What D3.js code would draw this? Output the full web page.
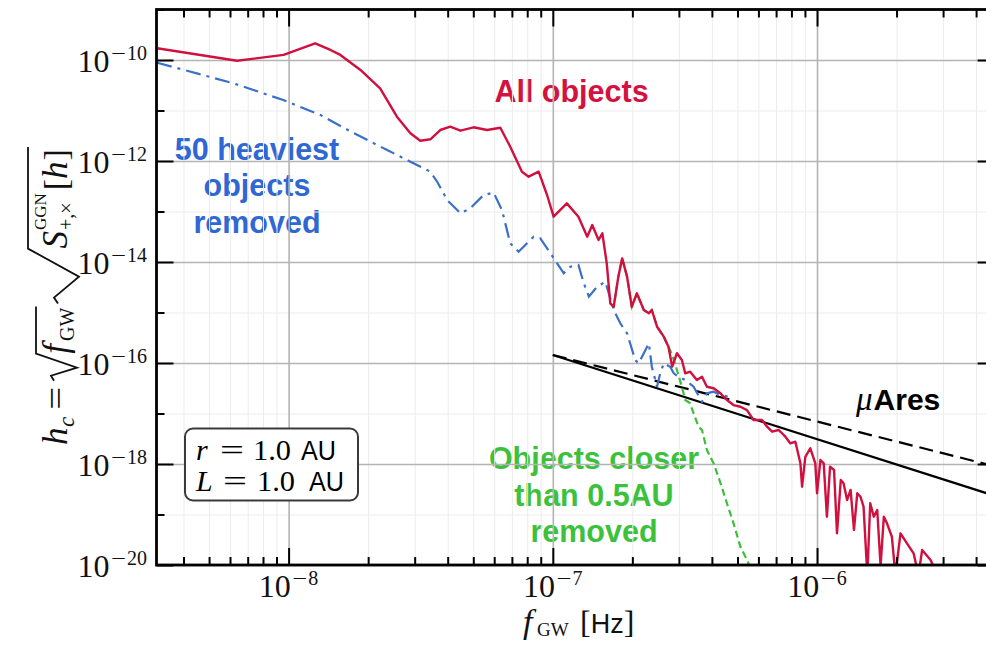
<!DOCTYPE html>
<html><head><meta charset="utf-8">
<script src="https://cdn.jsdelivr.net/npm/d3@7"></script>
<style>
html,body{margin:0;padding:0;background:#fff;}
svg{display:block;}
</style></head><body>
<svg id="chart" width="986" height="645"></svg>
<script>
// ---------------- data ----------------
const xMajorTicks = [1e-8, 1e-7, 1e-6];
const xMajorLabels = ["8", "7", "6"];          // exponent magnitudes (negative)
const xMinorTicks = [4e-9,5e-9,6e-9,7e-9,8e-9,9e-9,
  2e-8,3e-8,4e-8,5e-8,6e-8,7e-8,8e-8,9e-8,
  2e-7,3e-7,4e-7,5e-7,6e-7,7e-7,8e-7,9e-7,
  2e-6,3e-6,4e-6];
const yMajorTicks = [1e-20, 1e-18, 1e-16, 1e-14, 1e-12, 1e-10];
const yMajorLabels = ["20","18","16","14","12","10"];  // exponent magnitudes (negative)
const yMinorTicks = [1e-19, 1e-17, 1e-15, 1e-13, 1e-11, 1e-9];

// All objects (f [Hz], h_c)
const allObjects = [
 [3.18e-9,1.71e-10],[6.38e-9,9.69e-11],[9.57e-9,1.26e-10],[1.26e-8,2.14e-10],[1.44e-8,1.58e-10],
 [1.57e-8,1.26e-10],[1.87e-8,6.34e-11],[2.22e-8,2.75e-11],[2.57e-8,7.54e-12],[2.89e-8,3.54e-12],
 [3.15e-8,2.52e-12],[3.44e-8,2.69e-12],[3.75e-8,4.11e-12],[4.09e-8,4.78e-12],[4.47e-8,3.98e-12],
 [5.01e-8,4.65e-12],[5.64e-8,4.11e-12],[6.33e-8,4.56e-12],[6.90e-8,1.92e-12],[7.64e-8,6.14e-13],
 [8.10e-8,4.89e-13],[8.84e-8,6.14e-13],[9.51e-8,2.12e-13],[1.007e-7,7.89e-14],[1.13e-7,1.45e-13],
 [1.25e-7,7.89e-14],[1.35e-7,3.17e-14],[1.41e-7,5.40e-14],[1.49e-7,2.73e-14],[1.54e-7,3.70e-14],
 [1.60e-7,9.42e-15],[1.65e-7,1.52e-15],[1.70e-7,1.30e-15],[1.77e-7,5.12e-15],[1.83e-7,1.18e-14],
 [1.91e-7,5.12e-15],[1.99e-7,1.30e-15],[2.08e-7,2.40e-15],[2.21e-7,1.12e-15],[2.31e-7,9.64e-16],
 [2.37e-7,1.12e-15],[2.48e-7,5.23e-16],[2.63e-7,3.32e-16],[2.74e-7,2.10e-16],[2.83e-7,8.45e-17],
 [2.95e-7,1.56e-16],[3.08e-7,1.15e-16],[3.17e-7,6.25e-17],[3.31e-7,6.72e-17],[3.51e-7,4.61e-17],
 [3.67e-7,5.35e-17],[3.83e-7,3.39e-17],[4.06e-7,3.16e-17],[4.31e-7,2.51e-17],[4.56e-7,1.85e-17],
 [4.83e-7,1.47e-17],[5.13e-7,1.36e-17],[5.43e-7,1.17e-17],[5.75e-7,7.43e-18],[6.19e-7,7.43e-18],
 [6.47e-7,5.48e-18],[6.76e-7,4.36e-18],[7.16e-7,4.71e-18],[7.59e-7,3.47e-18],[7.92e-7,2.57e-18],
 [8.28e-7,2.76e-18],[8.65e-7,1.03e-18],[8.78e-7,3.55e-19],[9.03e-7,1.39e-18],[9.43e-7,2.05e-18],
 [9.85e-7,1.03e-18],[1.00e-6,2.63e-19],[1.03e-6,1.20e-18],[1.06e-6,1.03e-18],[1.09e-6,9.05e-20],
 [1.12e-6,8.84e-19],[1.16e-6,7.61e-19],[1.19e-6,4.24e-20],[1.23e-6,4.82e-19],[1.26e-6,4.15e-19],
 [1.30e-6,1.94e-19],[1.34e-6,3.06e-19],[1.38e-6,4.93e-20],[1.42e-6,2.63e-19],[1.46e-6,2.25e-19],
 [1.50e-6,1.43e-19],[1.55e-6,6.34e-21],[1.59e-6,1.67e-19],[1.64e-6,9.05e-20],[1.69e-6,1.23e-19],
 [1.74e-6,9.55e-21],[1.79e-6,9.05e-20],[1.84e-6,6.69e-20],[1.92e-6,3.63e-20],[1.98e-6,6.34e-21],
 [2.07e-6,4.24e-20],[2.19e-6,2.69e-20],[2.32e-6,1.70e-20],[2.42e-6,6.34e-21],[2.50e-6,1.98e-20],
 [2.69e-6,1.26e-20],[2.85e-6,6.34e-21]
];

// 50 heaviest objects removed
const heaviestRemoved = [
 [3.18e-9,8.84e-11],[6.18e-9,3.46e-11],[9.55e-9,1.61e-11],[1.32e-8,8.14e-12],[1.76e-8,3.58e-12],
 [2.36e-8,1.65e-12],[2.89e-8,9.68e-13],[3.44e-8,6.14e-13],[3.65e-8,3.89e-13],[3.98e-8,1.69e-13],
 [4.47e-8,9.21e-14],[4.87e-8,1.16e-13],[5.47e-8,2.12e-13],[5.97e-8,2.36e-13],[6.42e-8,1.07e-13],
 [6.90e-8,2.35e-14],[7.42e-8,1.60e-14],[8.46e-8,3.17e-14],[8.97e-8,2.94e-14],[1.007e-7,1.20e-14],
 [1.10e-7,5.97e-15],[1.165e-7,8.07e-15],[1.25e-7,8.72e-15],[1.31e-7,3.79e-15],[1.37e-7,2.06e-15],
 [1.47e-7,3.24e-15],[1.58e-7,4.07e-15],[1.70e-7,1.12e-15],[1.80e-7,6.11e-16],[1.91e-7,3.87e-16],
 [2.05e-7,1.15e-16],[2.11e-7,9.86e-17],[2.21e-7,1.56e-16],[2.31e-7,2.45e-16],[2.37e-7,8.45e-17],
 [2.48e-7,3.39e-17],[2.55e-7,6.25e-17],[2.63e-7,9.86e-17],[2.78e-7,8.45e-17],[2.87e-7,6.25e-17],
 [2.99e-7,5.35e-17],[3.17e-7,4.61e-17],[3.41e-7,3.39e-17],[3.67e-7,1.71e-17],[3.83e-7,2.51e-17],
 [4.06e-7,2.70e-17],[4.31e-7,2.32e-17],[4.63e-7,2.15e-17]
];

// Objects closer than 0.5 AU removed
const closerRemoved = [
 [1.65e-7,1.52e-15],[1.70e-7,1.30e-15],[1.77e-7,5.12e-15],[1.83e-7,1.18e-14],[1.91e-7,5.12e-15],
 [1.99e-7,1.30e-15],[2.08e-7,2.40e-15],[2.21e-7,1.12e-15],[2.31e-7,9.64e-16],[2.37e-7,1.12e-15],
 [2.48e-7,5.23e-16],[2.63e-7,3.32e-16],[2.74e-7,2.10e-16],[2.83e-7,1.44e-16],[2.95e-7,7.27e-17],
 [3.08e-7,3.39e-17],[3.17e-7,1.85e-17],[3.31e-7,1.59e-17],[3.41e-7,1.01e-17],[3.56e-7,5.48e-18],
 [3.67e-7,4.71e-18],[3.83e-7,1.89e-18],[4.06e-7,1.03e-18],[4.31e-7,4.21e-19],[4.56e-7,1.67e-19],
 [4.83e-7,6.69e-20],[5.13e-7,2.30e-20],[5.43e-7,1.26e-20],[5.69e-7,7.27e-21]
];

// muAres sensitivity curves
const muAresSolid  = [[1e-7,1.44e-16],[1e-5,6.68e-20]];
const muAresDashed = [[1e-7,1.44e-16],[1e-5,3.34e-19]];

// ---------------- chart ----------------
const serif = "'Liberation Serif','Times New Roman',serif";
const sans = "'Liberation Sans',Arial,Helvetica,sans-serif";
const svg = d3.select("#chart");

const x = d3.scaleLog().domain([3.162e-9, 4.7e-6]).range([156.5, 994.6]);
const y = d3.scaleLog().domain([1e-20, 1e-9]).range([565, 9.5]);
const [X0, X1] = x.range();
const [Y1, Y0] = y.range();

svg.append("defs").append("clipPath").attr("id","plotclip")
  .append("rect").attr("x",X0).attr("y",Y0).attr("width",X1-X0).attr("height",Y1-Y0);

// annotation texts (below grid)
const ann = svg.append("g").attr("font-family", sans).attr("font-weight","bold").attr("font-size",30.5);
ann.append("text").attr("x",571.5).attr("y",101.7).attr("text-anchor","middle").attr("fill","#d3123f").text("All objects");
[["50 heaviest",160],["objects",196],["removed",233]].forEach(([s,yy])=>{
  ann.append("text").attr("x",257).attr("y",yy).attr("text-anchor","middle").attr("fill","#2f68d2").text(s);
});
[["Objects closer",469],["than 0.5AU",506],["removed",542]].forEach(([s,yy])=>{
  ann.append("text").attr("x",594).attr("y",yy).attr("text-anchor","middle").attr("fill","#3cc13c").text(s);
});

// grid
function gridX(vals, color, w){
  svg.append("g").attr("transform",`translate(0,${Y1})`)
    .call(d3.axisBottom(x).tickValues(vals).tickSize(-(Y1-Y0)).tickSizeOuter(0).tickFormat(""))
    .call(g=>g.select(".domain").remove())
    .call(g=>g.selectAll(".tick line").attr("stroke",color).attr("stroke-width",w));
}
function gridY(vals, color, w){
  svg.append("g").attr("transform",`translate(${X0},0)`)
    .call(d3.axisLeft(y).tickValues(vals).tickSize(-(X1-X0)).tickSizeOuter(0).tickFormat(""))
    .call(g=>g.select(".domain").remove())
    .call(g=>g.selectAll(".tick line").attr("stroke",color).attr("stroke-width",w));
}
gridX(xMinorTicks, "#ececec", 1);
gridY(yMinorTicks, "#ececec", 1);
gridX(xMajorTicks, "#b4b4b4", 1.6);
gridY(yMajorTicks, "#b4b4b4", 1.6);

// curves
const line = d3.line().x(d=>x(d[0])).y(d=>y(d[1]));
const plot = svg.append("g").attr("clip-path","url(#plotclip)").attr("fill","none");
plot.append("path").datum(muAresSolid).attr("d",line).attr("stroke","#000").attr("stroke-width",2.2);
plot.append("path").datum(muAresDashed).attr("d",line).attr("stroke","#000").attr("stroke-width",2.2).attr("stroke-dasharray","14,7");
plot.append("path").datum(closerRemoved).attr("d",line).attr("stroke","#3cbf3c").attr("stroke-width",2.2).attr("stroke-dasharray","7,4");
plot.append("path").datum(heaviestRemoved).attr("d",line).attr("stroke","#3a70c8").attr("stroke-width",2.2).attr("stroke-dasharray","15,6,3,6");
plot.append("path").datum(allObjects).attr("d",line).attr("stroke","#d0103f").attr("stroke-width",2.4).attr("stroke-linejoin","round");

// muAres label
const mu = svg.append("text").attr("x",856).attr("y",410);
mu.append("tspan").attr("font-family",serif).attr("font-style","italic").attr("font-size",33).text("\u03bc");
mu.append("tspan").attr("font-family",sans).attr("font-weight","bold").attr("font-size",30).attr("dx",1).text("Ares");

// parameter box
const box = svg.append("g");
box.append("rect").attr("x",185).attr("y",428.5).attr("width",173).attr("height",72).attr("rx",8)
  .attr("fill","#fff").attr("stroke","#3a3a3a").attr("stroke-width",2);
function boxLine(v, xv, xe, xn, xa, yy){
  box.append("text").attr("x",xv).attr("y",yy).attr("font-family",serif).attr("font-style","italic").attr("font-size",30).text(v);
  box.append("text").attr("x",xe).attr("y",yy).attr("font-family",serif).attr("font-size",30).attr("textLength",24).attr("lengthAdjust","spacingAndGlyphs").text("=");
  box.append("text").attr("x",xn).attr("y",yy).attr("font-family",serif).attr("font-size",29).attr("textLength",38).attr("lengthAdjust","spacingAndGlyphs").text("1.0");
  box.append("text").attr("x",xa).attr("y",yy).attr("font-family",sans).attr("font-size",28).attr("textLength",35).attr("lengthAdjust","spacingAndGlyphs").text("AU");
}
boxLine("r",196,220,253,301,460);
boxLine("L",196,223,257,309,491);

// ticks
function ticks(axisFn, scale, vals, size, tr){
  svg.append("g").attr("transform",tr)
    .call(axisFn(scale).tickValues(vals).tickSize(-size).tickSizeOuter(0).tickFormat(""))
    .call(g=>g.select(".domain").remove())
    .call(g=>g.selectAll(".tick line").attr("stroke","#000").attr("stroke-width",2));
}
ticks(d3.axisBottom, x, xMajorTicks, 17, `translate(0,${Y1})`);
ticks(d3.axisBottom, x, xMinorTicks, 8, `translate(0,${Y1})`);
ticks(d3.axisTop, x, xMajorTicks, 17, `translate(0,${Y0})`);
ticks(d3.axisTop, x, xMinorTicks, 8, `translate(0,${Y0})`);
ticks(d3.axisLeft, y, yMajorTicks, 17, `translate(${X0},0)`);
ticks(d3.axisLeft, y, yMinorTicks, 8, `translate(${X0},0)`);
ticks(d3.axisRight, y, yMajorTicks, 17, `translate(${X1},0)`);
ticks(d3.axisRight, y, yMinorTicks, 8, `translate(${X1},0)`);

// spines
svg.append("rect").attr("x",X0).attr("y",Y0).attr("width",X1-X0).attr("height",Y1-Y0)
  .attr("fill","none").attr("stroke","#000").attr("stroke-width",2.8);

// tick labels: "10" + superscript "−n"
const MAIN = 32, SUP = 20, MINUSW = 15, DIGW = 10;
function powerLabel(xStart, baseY, expStr){
  const g = svg.append("g").attr("font-family",serif).attr("fill","#111");
  g.append("text").attr("x",xStart).attr("y",baseY).attr("font-size",MAIN).text("10");
  const mx = xStart + MAIN + 1.5;
  g.append("text").attr("x",mx).attr("y",baseY-12).attr("font-size",SUP)
    .attr("textLength",MINUSW).attr("lengthAdjust","spacingAndGlyphs").text("\u2212");
  g.append("text").attr("x",mx+MINUSW+1).attr("y",baseY-12).attr("font-size",SUP).text(expStr);
}
function labelWidth(expStr){ return MAIN + 1.5 + MINUSW + 1 + DIGW*expStr.length; }
yMajorTicks.forEach((v,i)=>{
  const w = labelWidth(yMajorLabels[i]);
  powerLabel(X0 - 9.5 - w, y(v)+11.5, yMajorLabels[i]);
});
xMajorTicks.forEach((v,i)=>{
  const w = labelWidth(xMajorLabels[i]);
  powerLabel(x(v) - w/2, Y1+32, xMajorLabels[i]);
});

// x axis title
const xt = svg.append("g").attr("fill","#111");
xt.append("text").attr("x",523).attr("y",633).attr("font-family",serif).attr("font-style","italic").attr("font-size",34).text("f");
xt.append("text").attr("x",537).attr("y",636).attr("font-family",serif).attr("font-size",19).text("GW");
const unit = xt.append("text").attr("x",580).attr("y",633);
unit.append("tspan").attr("font-family",serif).attr("font-size",32).text("[");
unit.append("tspan").attr("font-family",sans).attr("font-size",27).text("Hz");
unit.append("tspan").attr("font-family",serif).attr("font-size",32).text("]");

// y axis title (rotated, built from pieces)
const yl = svg.append("g").attr("transform","translate(67,0) rotate(-90)").attr("fill","#111");
const inner = yl.append("g");
let cx = 0;
function put(str, o){
  const t = inner.append("text").attr("x",cx).attr("y",o.dy||0)
    .attr("font-family",o.family||serif).attr("font-size",o.size||34)
    .attr("font-style",o.italic?"italic":"normal").text(str);
  if(o.len){ t.attr("textLength",o.len).attr("lengthAdjust","spacingAndGlyphs"); return o.len; }
  return t.node().getComputedTextLength();
}
cx += put("h",{italic:true,size:35}) + 0.5;
cx += put("c",{italic:true,size:23,dy:7}) + 7;
cx += put("=",{len:23,size:34}) + 6;
const r1 = cx;
cx += 27;
cx += put("f",{italic:true,size:35}) + 3;
cx += put("GW",{size:20,dy:7}) + 1;
const o1e = cx;
cx += 3;
const r2 = cx;
cx += 55;
cx += put("S",{italic:true,size:35}) + 1;
const wsup = put("GGN",{size:17,dy:-21});
const wsub = put("+,\u00d7",{size:20,dy:6});
cx += Math.max(wsup,wsub) + 3;
cx += put("[",{});
cx += put("h",{italic:true,size:35}) + 1;
cx += put("]",{});
const o2e = cx + 2;
const rad = inner.append("g").attr("fill","none").attr("stroke","#111").attr("stroke-linejoin","miter");
rad.append("path").attr("stroke-width",1.8)
  .attr("d",`M${r1},-13 L${r1+5},-16 L${r1+13},10 L${r1+27},-31 L${o1e},-31`);
rad.append("path").attr("stroke-width",1.8)
  .attr("d",`M${r2},-9 L${r2+6},-13 L${r2+27},12 L${r2+55},-39 L${o2e},-39`);
const W = o2e;
inner.attr("transform",`translate(${-(296 + W/2)},0)`);
</script>
</body></html>
